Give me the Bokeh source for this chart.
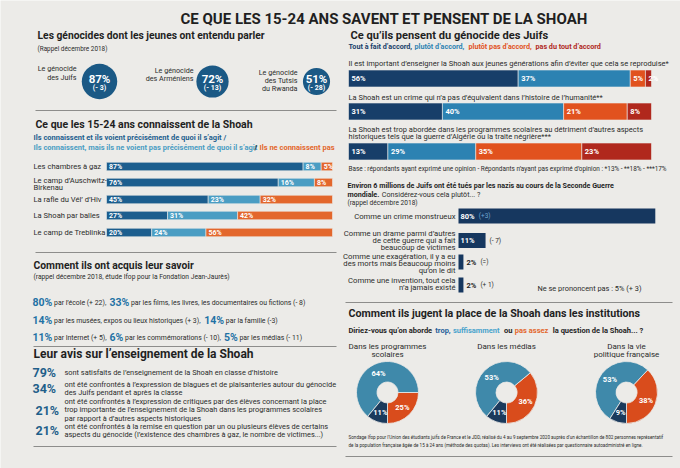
import math
from bokeh.plotting import figure
from bokeh.models import Range1d, ColumnDataSource
from bokeh.core.properties import value
from bokeh.embed import file_html
from bokeh.resources import INLINE

# ------------------------------------------------------------------ data
title = "CE QUE LES 15-24 ANS SAVENT ET PENSENT DE LA SHOAH"

genocide_labels = ["Le génocide\ndes Juifs", "Le génocide\ndes Arméniens", "Le génocide\ndes Tutsis\ndu Rwanda"]
genocide_heard = [87, 72, 51]
genocide_delta = ["(- 3)", "(- 13)", "(- 28)"]

known_items = ["Les chambres à gaz", "Le camp d’Auschwitz-\nBirkenau", "La rafle du Vél’ d’Hiv",
               "La Shoah par balles", "Le camp de Treblinka"]
known_precise = [87, 76, 45, 27, 20]
known_vague = [8, 16, 23, 31, 24]
known_not = [5, 8, 32, 42, 56]

source_values = [80, 33, 14, 14, 11, 6, 5]
source_labels = ["par l’école (+ 22),",
                 "par les films, les livres, les documentaires ou fictions (- 8)",
                 "par les musées, expos ou lieux historiques (+ 3),",
                 "par la famille (-3)",
                 "par Internet (+ 5),",
                 "par les commémorations (- 10),",
                 "par les médias (- 11)"]
source_rows = [0, 0, 1, 1, 2, 2, 2]

opinion_values = [79, 34, 21, 21]
opinion_labels = [
    "sont satisfaits de l’enseignement de la Shoah en classe d’histoire",
    "ont été confrontés à l’expression de blagues et de plaisanteries autour du génocide\ndes Juifs pendant et après la classe",
    "ont été confrontés à l’expression de critiques par des élèves concernant la place\ntrop importante de l’enseignement de la Shoah dans les programmes scolaires\npar rapport à d’autres aspects historiques",
    "ont été confrontés à la remise en question par un ou plusieurs élèves de certains\naspects du génocide (l’existence des chambres à gaz, le nombre de victimes...)",
]

statements = [
    "Il est important d’enseigner la Shoah aux jeunes générations afin d’éviter que cela se reproduise*",
    "La Shoah est un crime qui n’a pas d’équivalent dans l’histoire de l’humanité**",
    "La Shoah est trop abordée dans les programmes scolaires au détriment d’autres aspects\nhistoriques tels que la guerre d’Algérie ou la traite négrière***",
]
agree_full = [56, 31, 13]
agree_some = [37, 40, 29]
disagree_some = [5, 21, 35]
disagree_full = [2, 8, 23]

crime_labels = ["Comme un crime monstrueux",
                "Comme un drame parmi d’autres\nde cette guerre qui a fait\nbeaucoup de victimes",
                "Comme une exagération, il y a eu\ndes morts mais beaucoup moins\nqu’on le dit",
                "Comme une invention, tout cela\nn’a jamais existé"]
crime_values = [80, 11, 2, 2]
crime_delta = ["(+3)", "(- 7)", "(=)", "(+ 1)"]
no_opinion = 5
no_opinion_delta = "(+ 3)"

donut_titles = ["Dans les programmes\nscolaires", "Dans les médias", "Dans la vie\npolitique française"]
too_much = [11, 11, 9]
enough = [64, 53, 53]
not_enough = [25, 36, 38]

# ------------------------------------------------------------------ style
W, H = 680, 468
BG = "#ecebe8"
INK = "#1f1f1f"
TXT = "#2b2b2b"
FONT = "Roboto"
C_DARK = "#1c5e8e"
C_LIGHT = "#4a9dc3"
C_ORANGE = "#e3672c"
R_NAVY = "#173e69"
R_LIGHT = "#2c82b2"
R_ORANGE = "#e1521e"
R_RED = "#b0281d"
D_LIGHT = "#3f89aa"
D_ORANGE = "#d94c1c"
D_NAVY = "#1b3a5c"
SEP = "#8d8d8b"

p = figure(width=W, height=H, x_range=Range1d(0, W), y_range=Range1d(H, 0),
           x_axis_type=None, y_axis_type=None, output_backend="svg",
           toolbar_location=None, min_border=0, background_fill_color=BG,
           border_fill_color=BG, outline_line_color=None)

NARROW = {' ': 0.25, 'i': 0.24, 'l': 0.24, 'j': 0.24, 't': 0.33, 'f': 0.35, 'r': 0.34, "'": 0.17,
          '’': 0.2, ',': 0.2, '.': 0.26, '(': 0.34, ')': 0.35, '-': 0.28, ':': 0.24, 'I': 0.27,
          '?': 0.47, '=': 0.55}
WIDE = {'m': 0.88, 'w': 0.75, 'M': 0.87, 'W': 0.89, '%': 0.73, '+': 0.57}


def tw(s, size, bold=False):
    w = 0.0
    for ch in s:
        if ch in NARROW:
            w += NARROW[ch]
        elif ch in WIDE:
            w += WIDE[ch]
        elif ch.isdigit():
            w += 0.56
        elif ch.isupper():
            w += 0.65
        else:
            w += 0.54
    return w * size * (1.03 if bold else 1.0)


def T(x, y, s, size=6.5, color=TXT, bold=False, align="left", baseline="middle", lh=1.0):
    p.text(x=[x], y=[y], text=[s], text_font=value(FONT), text_font_size=f"{size}px",
           text_color=color, text_font_style="bold" if bold else "normal",
           text_align=align, text_baseline=baseline, text_line_height=lh)


def chain(x, y, parts, gap=2.5):
    """parts: list of (text, size, color, bold)"""
    for s, size, color, bold in parts:
        T(x, y, s, size, color, bold)
        x += tw(s, size, bold) + gap
    return x


def sep(x0, x1, y):
    p.segment(x0=[x0], y0=[y], x1=[x1], y1=[y], line_color=SEP, line_width=1)


# ------------------------------------------------------------------ title
T(384, 18, title, 15, INK, True, "center")

# ------------------------------------------------------------------ genocides
T(37, 35, "Les génocides dont les jeunes ont entendu parler", 10.3, INK, True)
T(37, 48, "(Rappel décembre 2018)", 6.4)
g_cx = [99, 212, 316]
g_lx = [76, 193, 297]
g_ly = [72.5, 74, 80]
g_cy = 81
g_r = [19 * math.sqrt(v / 100) for v in genocide_heard]
p.circle(x=g_cx, y=[g_cy] * 3, radius=g_r, fill_color="#1b5985", line_color=None)
for i, v in enumerate(genocide_heard):
    T(g_lx[i], g_ly[i], genocide_labels[i], 7.2, TXT, False, "right", lh=0.92)
    T(g_cx[i], g_cy - 3, f"{v}%", 11.5, "white", True, "center")
    T(g_cx[i], g_cy + 6.5, genocide_delta[i], 7, "white", True, "center")

sep(35, 336, 110)

# ------------------------------------------------------------------ known
T(35, 124, "Ce que les 15-24 ans connaissent de la Shoah", 10.5, INK, True)
T(33, 137, "Ils connaissent et ils voient précisément de quoi il s’agit /", 7.5, C_DARK, True)
T(33, 146.5, "Ils connaissent, mais ils ne voient pas précisément de quoi il s’agit", 7.5, C_LIGHT, True)
T(254, 146.5, "/", 7.5, INK, True)
T(259, 146.5, "Ils ne connaissent pas", 7.5, C_ORANGE, True)

k_y = [166, 182, 199, 215, 232]
k_x0, k_s = 106, 2.26
segs = [(known_precise, C_DARK), (known_vague, C_LIGHT), (known_not, C_ORANGE)]
lefts = [0] * 5
for vals, col in segs:
    left = [k_x0 + l * k_s for l in lefts]
    right = [k_x0 + (l + v) * k_s for l, v in zip(lefts, vals)]
    src = ColumnDataSource(dict(y=k_y, left=left, right=right, v=vals,
                                lab=[f"{v}%" for v in vals], lx=[l + 2.5 for l in left]))
    p.hbar(y="y", left="left", right="right", height=8.5, source=src, fill_color=col,
           line_color=BG, line_width=0.6)
    p.text(x="lx", y="y", text="lab", source=src, text_font=value(FONT), text_font_size="7px",
           text_color="white", text_font_style="bold", text_baseline="middle")
    lefts = [l + v for l, v in zip(lefts, vals)]
for i, lab in enumerate(known_items):
    T(33, k_y[i] + (1.5 if "\n" in lab else 0), lab, 7.6, TXT, False, "left", lh=0.88)

sep(35, 336, 252)

# ------------------------------------------------------------------ sources
T(33, 265, "Comment ils ont acquis leur savoir", 10.3, INK, True)
T(33, 276, "(rappel décembre 2018, étude Ifop pour la Fondation Jean-Jaurès)", 6.7)
row_y = [302, 320, 337]
row_x = [32, 32, 32]
for i, v in enumerate(source_values):
    r = source_rows[i]
    x = row_x[r]
    pct = f"{v}%"
    T(x, row_y[r], pct, 10.5, "#1f72a5", True)
    x += tw(pct, 10.5, True) + 1.5
    T(x, row_y[r] + 0.5, source_labels[i], 6.9)
    row_x[r] = x + tw(source_labels[i], 6.9) + 3

sep(33, 336, 346)

# ------------------------------------------------------------------ opinions
T(33, 353, "Leur avis sur l’enseignement de la Shoah", 12, INK, True)
o_px = [32, 32, 35, 35]
o_y = [372, 388, 409.5, 430]
for i, v in enumerate(opinion_values):
    T(o_px[i], o_y[i], f"{v}%", 12.5, "#1f5f8a", True)
    T(64, o_y[i], opinion_labels[i], 7.4, TXT, False, lh=0.93)

sep(33, 336, 446)

# ------------------------------------------------------------------ right: agree bars
T(350, 35, "Ce qu’ils pensent du génocide des Juifs", 11.1, INK, True)
T(348, 46, "Tout à fait d’accord,", 7.2, R_NAVY, True)
T(414, 46, "plutôt d’accord,", 7.2, R_LIGHT, True)
T(468, 46, "plutôt pas d’accord,", 7.2, R_ORANGE, True)
T(535, 46, "pas du tout d’accord", 7.2, R_RED, True)

a_y = [78, 111, 151]
a_ty = [62.5, 96.5, 132.5]
a_x0, a_s = 348, 3.03
lefts = [0] * 3
for vals, col in [(agree_full, R_NAVY), (agree_some, R_LIGHT), (disagree_some, R_ORANGE), (disagree_full, R_RED)]:
    left = [a_x0 + l * a_s for l in lefts]
    right = [a_x0 + (l + v) * a_s for l, v in zip(lefts, vals)]
    src = ColumnDataSource(dict(y=a_y, left=left, right=right, v=vals,
                                lab=[f"{v}%" for v in vals], lx=[l + 3 for l in left]))
    p.hbar(y="y", left="left", right="right", height=17, source=src, fill_color=col,
           line_color=BG, line_width=0.6)
    p.text(x="lx", y="y", text="lab", source=src, text_font=value(FONT), text_font_size="7.5px",
           text_color="white", text_font_style="bold", text_baseline="middle")
    lefts = [l + v for l, v in zip(lefts, vals)]
for i, s in enumerate(statements):
    T(348, a_ty[i], s, 7.5, TXT, False, lh=0.84)
T(348, 168, "Base : répondants ayant exprimé une opinion - Répondants n’ayant pas exprimé d’opinion : *13% - **18% - ***17%", 6.4)

# ------------------------------------------------------------------ crime bars
T(347, 185, "Environ 6 millions de Juifs ont été tués par les nazis au cours de la Seconde Guerre", 7.15, INK, True)
chain(347, 193.5, [("mondiale.", 7.15, INK, True), ("Considérez-vous cela plutôt... ?", 7.15, TXT, False)], gap=2.5)
T(347, 202.5, "(rappel décembre 2018)", 6.6)
c_y = [215.5, 240, 261.5, 284.5]
c_ly = [216, 240, 263, 283.5]
c_x0, c_s = 458, 2.46
c_right = [c_x0 + v * c_s for v in crime_values]
p.hbar(y=c_y, left=[c_x0] * 4, right=c_right, height=15, fill_color="#16375f", line_color=None)
for i, v in enumerate(crime_values):
    T(455, c_ly[i], crime_labels[i], 7.7, TXT, False, "right", lh=0.8)
    lab = f"{v}%"
    inside = v >= 10
    px = c_x0 + 2 if inside else c_right[i] + 3
    T(px, c_y[i], lab, 7.5, "white" if inside else INK, True)
    pend = px + tw(lab, 7.5, True)
    if v >= 50:
        T(pend + 4, c_y[i], crime_delta[i], 6.5, "#6fa6cf")
    else:
        T(max(pend, c_right[i]) + 4, c_y[i], crime_delta[i], 6.5, TXT)
T(537, 288, f"Ne se prononcent pas : {no_opinion}% {no_opinion_delta}", 7.4)

sep(345, 672, 302)

# ------------------------------------------------------------------ donuts
T(348, 313, "Comment ils jugent la place de la Shoah dans les institutions", 10.7, INK, True)
chain(348, 330, [("Diriez-vous qu’on aborde", 7.5, INK, True), ("trop,", 7.5, "#1f5f9a", True),
                 ("suffisamment", 7.5, "#4aa3cc", True), ("ou", 7.5, INK, True),
                 ("pas assez", 7.5, C_ORANGE, True), ("la question de la Shoah... ?", 7.5, INK, True)], gap=2.6)

d_cx = [387, 506, 626]
d_cy = 392
d_ty = [350, 346, 350]
r_in, r_out, r_lab = 10.5, 31, 21
for i in range(3):
    T(d_cx[i], d_ty[i], donut_titles[i], 8, TXT, False, "center", lh=0.85)
    start = -90.0
    for val, col in [(not_enough[i], D_ORANGE), (enough[i], D_LIGHT), (too_much[i], D_NAVY)]:
        end = start + val * 3.6
        p.annular_wedge(x=[d_cx[i]], y=[d_cy], inner_radius=r_in, outer_radius=r_out,
                        start_angle=[math.radians(start)], end_angle=[math.radians(end)],
                        fill_color=col, line_color=BG, line_width=0.8)
        mid = math.radians((start + end) / 2)
        T(d_cx[i] + r_lab * math.cos(mid), d_cy - r_lab * math.sin(mid), f"{val}%", 7.5, "white", True, "center")
        start = end

T(348, 437, "Sondage Ifop pour l’Union des étudiants juifs de France et le JDD, réalisé du 4 au 9 septembre 2020 auprès d’un échantillon de 802 personnes représentatif", 4.6)
T(348, 445, "de la population française âgée de 15 à 24 ans (méthode des quotas). Les interviews ont été réalisées par questionnaire autoadministré en ligne.", 4.6)
sep(345, 672, 456)

open("out.html", "w").write(file_html(p, INLINE))
